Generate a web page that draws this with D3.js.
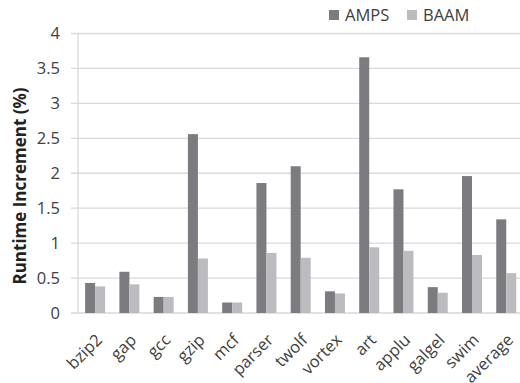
<!DOCTYPE html>
<html><head><meta charset="utf-8">
<script src="https://cdn.jsdelivr.net/npm/d3@7"></script>
<style>body{margin:0;background:#fff}svg{display:block}text{font-family:"Open Sans",sans-serif}</style>
</head><body><svg id="c" width="520" height="383"></svg>
<script>
const categories = ["bzip2","gap","gcc","gzip","mcf","parser","twolf","vortex","art","applu","galgel","swim","average"];
const seriesNames = ["AMPS","BAAM"];
const amps = [0.43,0.59,0.23,2.56,0.15,1.86,2.10,0.31,3.66,1.77,0.37,1.96,1.34];
const baam = [0.38,0.41,0.23,0.78,0.15,0.86,0.79,0.28,0.94,0.89,0.29,0.83,0.57];
const yTicks = [0,0.5,1,1.5,2,2.5,3,3.5,4];
const colors = ["#7b7b80","#bcbcc0"];

(function(){
const svg = d3.select("#c");
const pl = 78, pr = 523.4, pt = 33.5, pb = 313;
const x0 = d3.scaleBand().domain(categories).range([pl, pr]).paddingInner(0.416).paddingOuter(0.208);
const x1 = d3.scaleBand().domain(seriesNames).range([0, x0.bandwidth()]);
const y = d3.scaleLinear().domain([0,4]).range([pb, pt]);

svg.append("g").selectAll("line").data(yTicks).join("line")
  .attr("x1", 71).attr("x2", 520).attr("y1", d=>y(d)).attr("y2", d=>y(d))
  .attr("stroke", "#d9d9d9").attr("stroke-width", 1.3);
svg.append("line").attr("x1", pl).attr("x2", pl).attr("y1", pt).attr("y2", pb)
  .attr("stroke", "#d9d9d9").attr("stroke-width", 1.3);

svg.append("g").selectAll("text").data(yTicks).join("text")
  .attr("x", 60).attr("y", d=>y(d)).attr("dy", "0.36em").attr("text-anchor", "end")
  .attr("font-size", 16.5).attr("fill", "#404040").text(d=>d);

const data = categories.map((c,i)=>({c, vals:[amps[i], baam[i]]}));
const g = svg.append("g").selectAll("g").data(data).join("g")
  .attr("transform", d=>`translate(${x0(d.c)},0)`);
g.selectAll("rect").data(d=>d.vals.map((v,j)=>({s:seriesNames[j], v, j}))).join("rect")
  .attr("x", d=>x1(d.s)).attr("width", x1.bandwidth())
  .attr("y", d=>y(d.v)).attr("height", d=>y(0)-y(d.v))
  .attr("fill", d=>colors[d.j]);

svg.append("g").selectAll("text").data(categories).join("text")
  .attr("transform", d=>"translate(" + (x0(d)+x0.bandwidth()/2+8) + ",341) rotate(-45)")
  .attr("text-anchor", "end").attr("font-size", 16.5).attr("fill", "#404040").text(d=>d);

svg.append("text").attr("transform", "translate(26,186) rotate(-90)")
  .attr("text-anchor", "middle").attr("font-size", 17).attr("font-weight", "bold")
  .attr("fill", "#222").text("Runtime Increment (%)");

const legX = [329, 407];
const lg = svg.append("g").selectAll("g").data(seriesNames).join("g")
  .attr("transform", (d,i)=>`translate(${legX[i]},0)`);
lg.append("rect").attr("x",0).attr("y",10).attr("width",10).attr("height",10).attr("fill",(d,i)=>colors[i]);
lg.append("text").attr("x",16).attr("y",15).attr("dy","0.36em").attr("font-size",16.5).attr("fill","#404040").text(d=>d);
})();
</script></body></html>
